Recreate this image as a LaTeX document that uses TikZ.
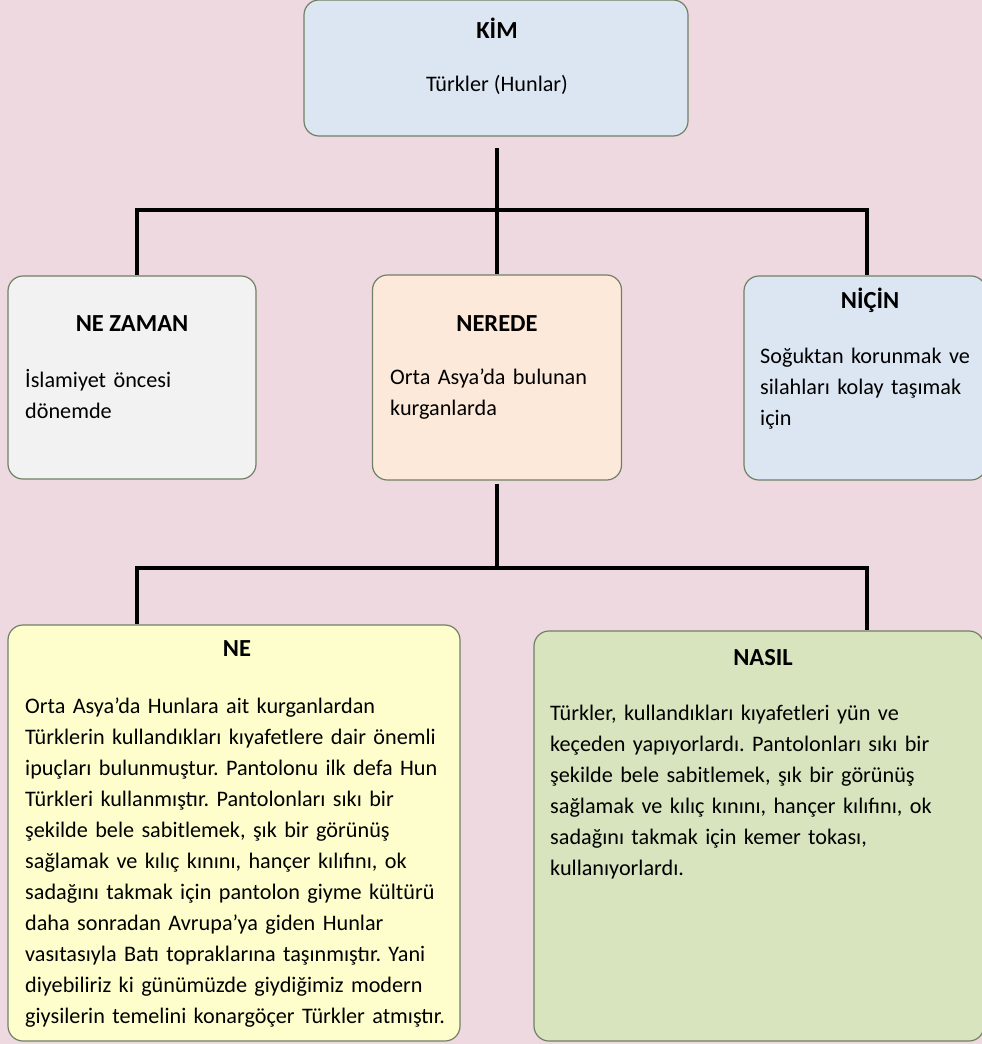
\documentclass[tikz,border=0pt]{standalone}
\usepackage{fontspec}
\setmainfont{Carlito}
\usepackage{tikz}

\definecolor{bgpink}{RGB}{239,217,224}
\definecolor{framecol}{RGB}{112,128,100}
\definecolor{kimfill}{RGB}{220,230,242}
\definecolor{zamanfill}{RGB}{242,242,242}
\definecolor{neredefill}{RGB}{253,233,217}
\definecolor{nicinfill}{RGB}{220,230,242}
\definecolor{nefill}{RGB}{254,254,204}
\definecolor{nasilfill}{RGB}{215,228,189}

\begin{document}
\frenchspacing
\begin{tikzpicture}[x=1pt,y=-1pt,
		box/.style={draw=framecol,line width=1.2pt,rounded corners=15pt,inner sep=0pt},
		title/.style={font=\fontsize{24.5}{31}\selectfont\bfseries,anchor=base,inner sep=0pt},
		body/.style={font=\fontsize{22.2}{31}\selectfont,anchor=base west,inner sep=0pt,align=left},
		link/.style={line width=4pt,line join=miter}]
		\fill[bgpink] (0,0) rectangle (982,1044);
		\useasboundingbox (0,0) rectangle (982,1044);
		\node[box,fill=kimfill,minimum width=384pt,minimum height=136pt] (kim) at (496,68) {};
		\node[box,fill=zamanfill,minimum width=248pt,minimum height=203pt] (nezaman) at (132,377.5) {};
		\node[box,fill=neredefill,minimum width=249pt,minimum height=205pt] (nerede) at (497,377.5) {};
		\node[box,fill=nicinfill,minimum width=242pt,minimum height=204pt] (nicin) at (865,378) {};
		\node[box,fill=nefill,minimum width=452pt,minimum height=416pt] (ne) at (234,833) {};
		\node[box,fill=nasilfill,minimum width=450pt,minimum height=410pt] (nasil) at (759,836) {};
		\node[title] (kimt) at (497,38) {KİM};
		\node[title,font=\fontsize{22.2}{31}\selectfont] (kimb) at (497,91) {Türkler (Hunlar)};
		\node[title] (nezamant) at (132,331) {NE ZAMAN};
		\node[body,text width=225pt] (nezamanb) at (25,387) {İslamiyet öncesi\\dönemde};
		\node[title] (neredet) at (497,331) {NEREDE};
		\node[body,text width=225pt] (neredeb) at (390,384) {Orta Asya’da bulunan\\kurganlarda};
		\node[title] (nicint) at (870,308) {NİÇİN};
		\node[body,text width=218pt] (nicinb) at (760,363) {Soğuktan korunmak ve\\silahları kolay taşımak\\için};
		\node[title] (net) at (237,656) {NE};
		\node[body,text width=434pt] (neb) at (25,713) {Orta Asya’da Hunlara ait kurganlardan\\Türklerin kullandıkları kıyafetlere dair önemli\\ipuçları bulunmuştur. Pantolonu ilk defa Hun\\Türkleri kullanmıştır. Pantolonları sıkı bir\\şekilde bele sabitlemek, şık bir görünüş\\sağlamak ve kılıç kınını, hançer kılıfını, ok\\sadağını takmak için pantolon giyme kültürü\\daha sonradan Avrupa’ya giden Hunlar\\vasıtasıyla Batı topraklarına taşınmıştır. Yani\\diyebiliriz ki günümüzde giydiğimiz modern\\giysilerin temelini konargöçer Türkler atmıştır.};
		\node[title] (nasilt) at (763,665) {NASIL};
		\node[body,text width=425pt] (nasilb) at (550,720) {Türkler, kullandıkları kıyafetleri yün ve\\keçeden yapıyorlardı. Pantolonları sıkı bir\\şekilde bele sabitlemek, şık bir görünüş\\sağlamak ve kılıç kınını, hançer kılıfını, ok\\sadağını takmak için kemer tokası,\\kullanıyorlardı.};
		\coordinate (top1) at (497,148);
		\coordinate (bar1) at (497,210);
		\coordinate (bar2) at (497,568);
		\draw[link] (top1) -- (nerede.north);
		\draw[link] ([xshift=5pt]nezaman.north) -- ([xshift=5pt]nezaman.north |- bar1) -- ([xshift=2pt]nicin.north |- bar1) -- ([xshift=2pt]nicin.north);
		\draw[link] ([yshift=-3pt]nerede.south) -- (bar2);
		\draw[link] ([xshift=5pt]nezaman.north |- ne.north) -- ([xshift=5pt]nezaman.north |- bar2) -- ([xshift=2pt]nicin.north |- bar2) -- ([xshift=2pt]nicin.north |- nasil.north);
	\end{tikzpicture}
\end{document}
